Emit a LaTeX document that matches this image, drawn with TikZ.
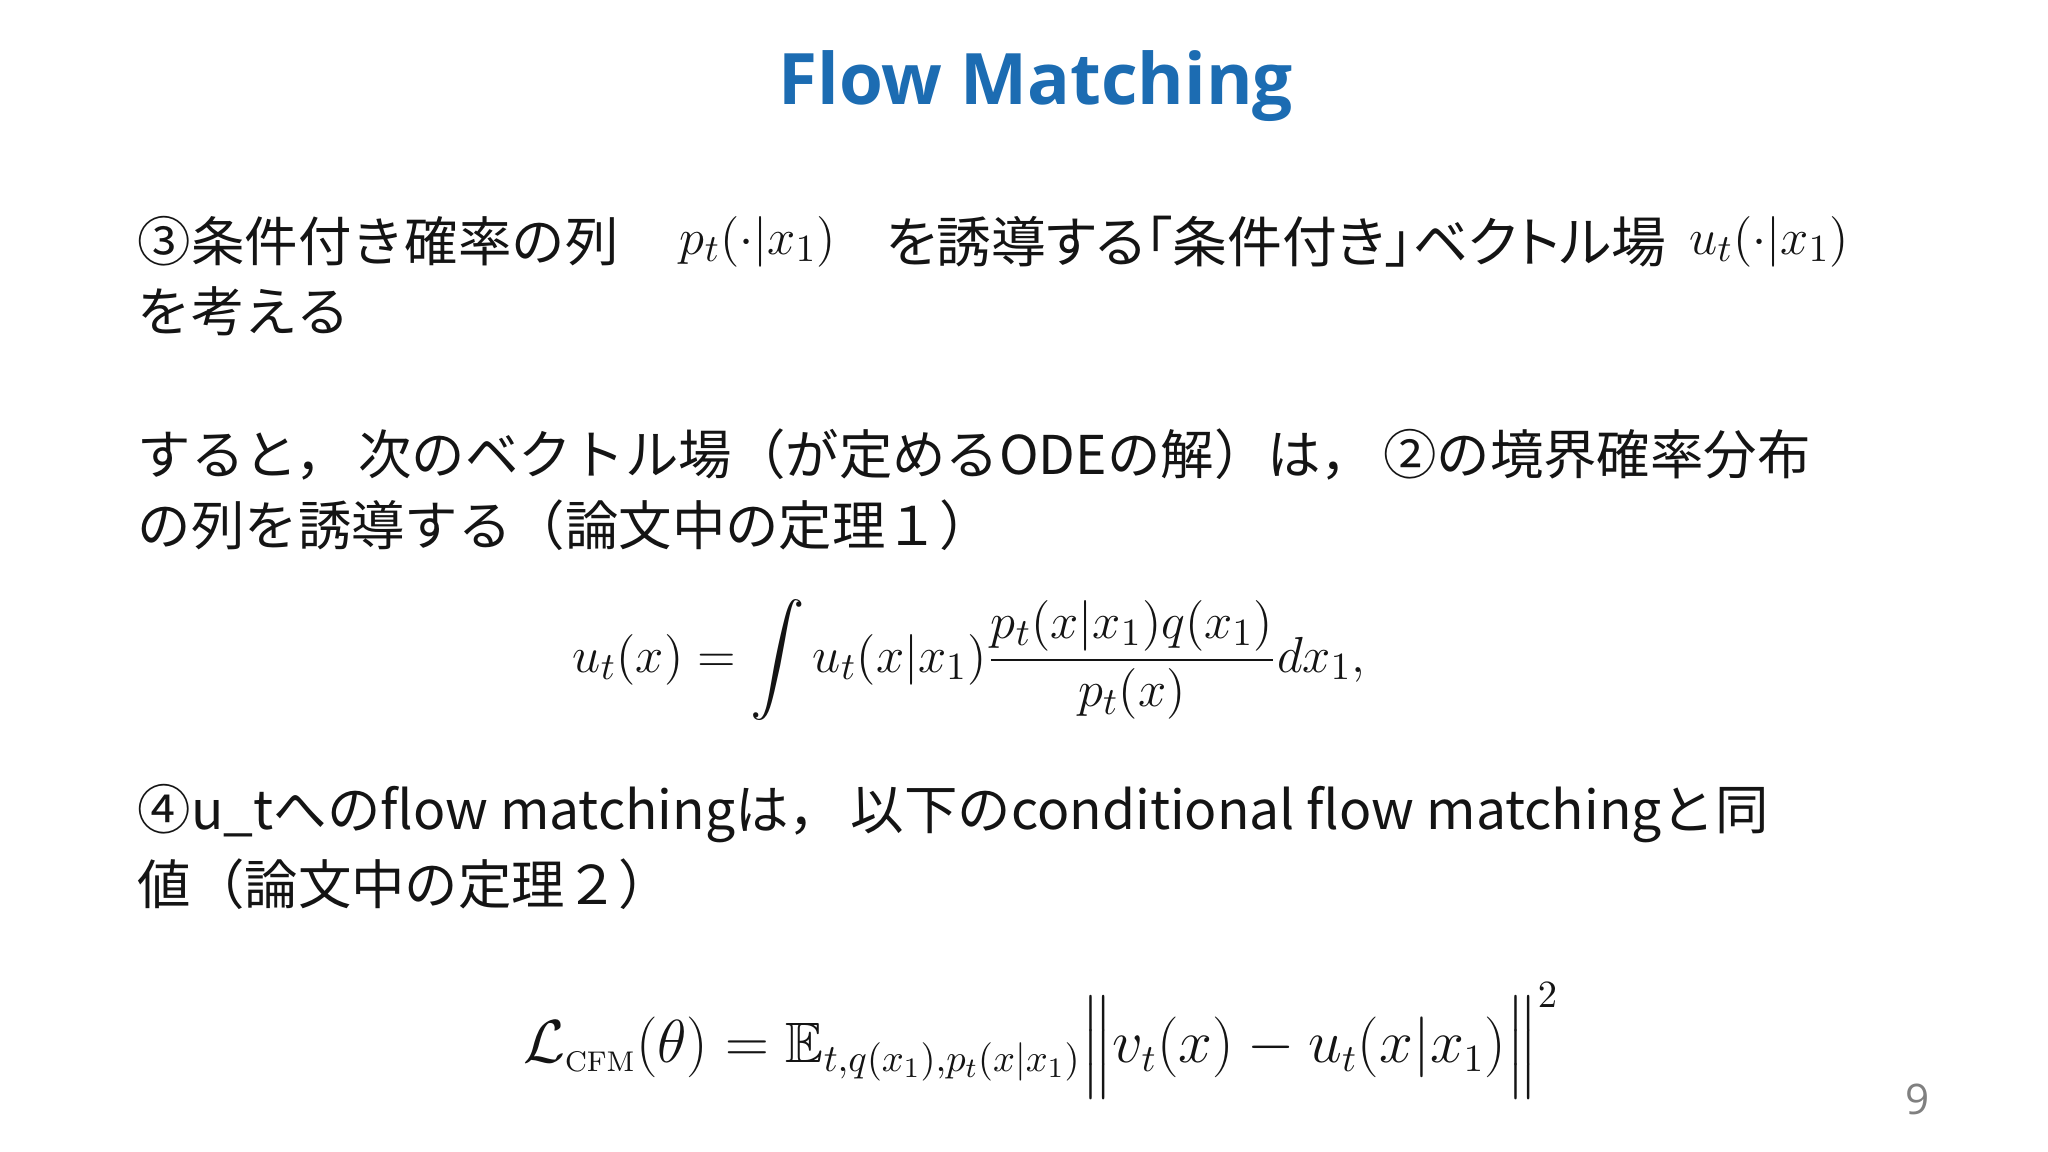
\documentclass[tikz,border=0pt]{standalone}
\usepackage{amsmath,amssymb}
\usepackage{fontspec}
\newfontfamily\jp[RawFeature=+palt]{Noto Sans CJK JP}
\newfontfamily\jpn{Noto Sans CJK JP}
\newfontfamily\titlefont{Open Sans}
\definecolor{titleblue}{RGB}{28,108,178}
\definecolor{txt}{RGB}{20,20,20}
\begin{document}
\begin{tikzpicture}[x=0.01306cm,y=-0.01306cm,
  body/.style={anchor=west,inner sep=0,text=txt,font=\jpn\fontsize{15.2}{20}\selectfont},
  imath/.style={anchor=west,inner sep=0,text=txt,font=\fontsize{15.5}{20}\selectfont}]
\useasboundingbox[fill=white] (0,0) rectangle (1568,882);
\node[text=titleblue,font=\titlefont\bfseries\fontsize{20.2}{24}\selectfont] (title) at (793,66) {Flow Matching};
\node[body] (l1a) at (105,185) {③条件付き確率の列};
\node[imath] (l1m) at (520,185) {$p_t(\cdot|x_1)$};
\node[body,font=\jp\fontsize{15.6}{20}\selectfont] (l1b) at (678,185) {を誘導する「条件付き」ベクトル場};
\node[imath] (l1n) at (1293,185) {$u_t(\cdot|x_1)$};
\node[body] (l2) at (105,238) {を考える};
\node[body] (l3) at (105,348) {すると，\,次のベクトル場（が定めるODEの解）は，\,②の境界確率分布};
\node[body] (l4) at (105,402) {の列を誘導する（論文中の定理１）};
\node[anchor=west,inner sep=0,text=txt,font=\fontsize{15.5}{20}\selectfont] (eq1) at (438,505)
  {$\displaystyle u_t(x)=\int u_t(x|x_1)\frac{p_t(x|x_1)q(x_1)}{p_t(x)}dx_1,$};
\node[body] (l5) at (105,623) {④u\_tへのflow matchingは，\,以下のconditional flow matchingと同};
\node[body] (l6) at (105,677) {値（論文中の定理２）};
\node[anchor=west,inner sep=0,text=txt,font=\fontsize{16.2}{20}\selectfont] (eq2) at (400,798)
  {$\mathcal{L}_{\scriptscriptstyle\mathrm{CFM}}(\theta)=\mathbb{E}_{t,q(x_1),p_t(x|x_1)}\Big\|v_t(x)-u_t(x|x_1)\Big\|^2$};
\node[text=gray,font=\titlefont\fontsize{12}{14}\selectfont] (pg) at (1468,842) {9};
\end{tikzpicture}
\end{document}
